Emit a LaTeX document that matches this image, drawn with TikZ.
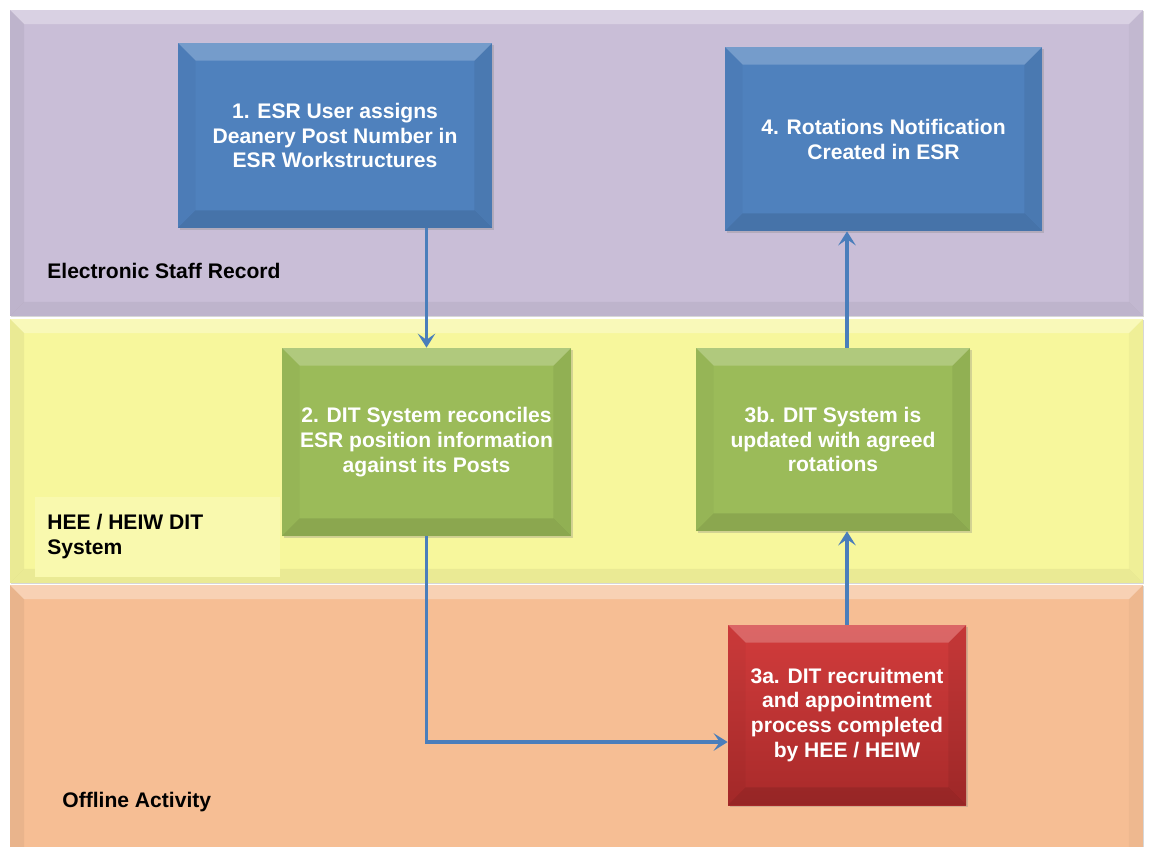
\documentclass[tikz,border=0pt]{standalone}
\usepackage{fontspec}
\setmainfont{Liberation Sans}
\usetikzlibrary{arrows.meta,calc,shadows}
\definecolor{bandpurple}{HTML}{C9BED7}
\definecolor{bandyellow}{HTML}{F7F79C}
\definecolor{labelyellow}{HTML}{F9F9AE}
\definecolor{bandorange}{HTML}{F6BE94}
\definecolor{boxblue}{HTML}{4F81BD}
\definecolor{boxgreen}{HTML}{9BBB59}
\definecolor{boxredtop}{HTML}{D23C3C}
\definecolor{boxredbot}{HTML}{A82A2A}
\definecolor{arrowblue}{HTML}{4A7EBB}
\newcommand{\bevelfaces}[5]{%
    \fill[white,opacity=#2] (path picture bounding box.north west) -- (path picture bounding box.north east)
      -- ([shift={(-#1,-#1)}]path picture bounding box.north east) -- ([shift={(#1,-#1)}]path picture bounding box.north west) -- cycle;
    \fill[black,opacity=#3] (path picture bounding box.north west) -- (path picture bounding box.south west)
      -- ([shift={(#1,#1)}]path picture bounding box.south west) -- ([shift={(#1,-#1)}]path picture bounding box.north west) -- cycle;
    \fill[black,opacity=#4] (path picture bounding box.north east) -- (path picture bounding box.south east)
      -- ([shift={(-#1,#1)}]path picture bounding box.south east) -- ([shift={(-#1,-#1)}]path picture bounding box.north east) -- cycle;
    \fill[black,opacity=#5] (path picture bounding box.south west) -- (path picture bounding box.south east)
      -- ([shift={(-#1,#1)}]path picture bounding box.south east) -- ([shift={(#1,#1)}]path picture bounding box.south west) -- cycle;}
\tikzset{
  boxbevel/.style={path picture={\bevelfaces{#1}{0.22}{0.03}{0.06}{0.10}}},
  bandbevel/.style={path picture={\bevelfaces{#1}{0.30}{0.05}{0.03}{0.05}}},
  band/.style={fill=#1, bandbevel=8pt, drop shadow={shadow xshift=0.5pt,shadow yshift=-0.7pt,opacity=0.3}},
  stepbox/.style={rectangle, inner sep=0pt, text=white, align=center,
    font=\bfseries\fontsize{12}{14.2}\selectfont, boxbevel=10pt,
    drop shadow={shadow xshift=1.2pt,shadow yshift=-1.2pt,opacity=0.3}},
  lanelabel/.style={anchor=west, inner sep=0pt, align=left, text=black,
    font=\bfseries\fontsize{12}{14.2}\selectfont},
  conn/.style={draw=arrowblue, line width=2.1pt, -{Stealth[length=8pt,width=10pt,inset=3.5pt]}}
}
\begin{document}
\begin{tikzpicture}[x=0.02cm,y=-0.02cm]
\useasboundingbox (0,0) rectangle (1149,847);
\clip (0,0) rectangle (1149,847);
\fill[white] (0,0) rectangle (1149,847);
% bands
\path[band=bandorange] (10,585) rectangle (1143,880);
\path[band=bandyellow] (10,319) rectangle (1143,583);
\path[band=bandpurple] (10,10) rectangle (1143,316);
\fill[labelyellow] (35,497) rectangle (280,577);
% lane labels
\node[lanelabel] (l1) at (47,271) {Electronic Staff Record};
\node[lanelabel] (l2) at (47,537) {HEE / HEIW DIT\\System};
\node[lanelabel] (l3) at (62,802) {Offline Activity};
% step boxes
\node[stepbox, fill=boxblue, minimum width=314*0.02cm, minimum height=185*0.02cm] (n1) at (335,135.5)
  {1. ESR User assigns\\Deanery Post Number in\\ESR Workstructures};
\node[stepbox, fill=boxblue, minimum width=317*0.02cm, minimum height=184*0.02cm] (n4) at (883.5,139)
  {4. Rotations Notification\\Created in ESR};
\node[stepbox, fill=boxgreen, minimum width=289*0.02cm, minimum height=188*0.02cm] (n2) at (426.5,442)
  {2. DIT System reconciles\\ESR position information\\against its Posts};
\node[stepbox, fill=boxgreen, minimum width=274*0.02cm, minimum height=183*0.02cm] (n3b) at (833,439.5)
  {3b. DIT System is\\updated with agreed\\rotations};
\node[stepbox, top color=boxredtop, bottom color=boxredbot, minimum width=238*0.02cm, minimum height=180*0.02cm] (n3a) at (847,715)
  {3a. DIT recruitment\\and appointment\\process completed\\by HEE / HEIW};
% connectors
\draw[conn] (n2.north |- n1.south) -- (n2.north);
\draw[conn] (n2.south) |- ($(n3a.west)+(0,27)$);
\draw[conn] (n3a.north) -- (n3a.north |- n3b.south);
\draw[conn] (n3a.north |- n3b.north) -- (n3a.north |- n4.south);
\end{tikzpicture}
\end{document}
